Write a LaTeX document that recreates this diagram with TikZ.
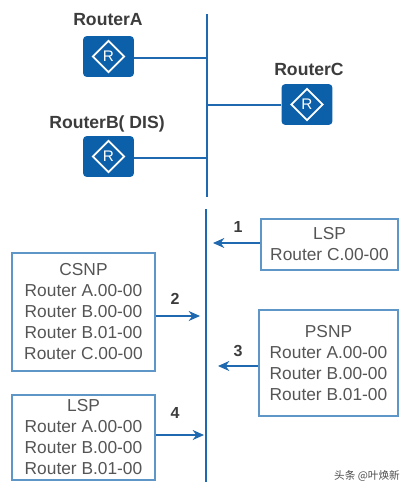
\documentclass[tikz,border=0pt]{standalone}
\usepackage{fontspec}
\setmainfont{Liberation Sans}
\newfontfamily\cjkfont{Noto Sans CJK SC}
\definecolor{rtblue}{RGB}{12,96,170}
\definecolor{lnblue}{RGB}{30,105,175}
\definecolor{boxblue}{RGB}{95,150,200}
\definecolor{txtgray}{RGB}{85,85,85}
\definecolor{lblgray}{RGB}{60,60,60}
\usetikzlibrary{arrows.meta,positioning,shapes.geometric}

\begin{document}
\begin{tikzpicture}[x=0.75pt, y=-0.75pt,
        rtbox/.style={rectangle, rounded corners=2.5pt, fill=rtblue, minimum width=38pt, minimum height=30.5pt, inner sep=0pt},
        rtmark/.style={diamond, draw=white, line width=1.3pt, minimum width=24pt, minimum height=24pt, inner sep=0pt,
                       text=white, font=\fontsize{11.5}{12}\selectfont},
        rtlabel/.style={font=\fontsize{13.2}{15}\selectfont\bfseries, text=lblgray},
        lspbox/.style={rectangle, draw=boxblue, line width=1pt, align=center, inner sep=0pt, text=txtgray,
                       font=\fontsize{13}{15.75}\selectfont},
        bus/.style={lnblue, line width=1.4pt},
        link/.style={lnblue, line width=1.4pt},
        arr/.style={-{Stealth[length=8.5pt, width=7.5pt]}, lnblue, line width=1pt},
        numlabel/.style={font=\fontsize{12}{14}\selectfont\bfseries, text=lblgray}
      ]
        \useasboundingbox (0,0) rectangle (408,490);

        % Top network
        \coordinate (busT) at (207,14);
        \coordinate (busB) at (207,197);
        \draw[bus] (busT) -- (busB);

        \node[rtbox] (rta) at (108.5,56.5) {};
        \node[rtbox] (rtb) at (108.5,156.5) {};
        \node[rtbox] (rtc) at (307,104.5) {};
        \node[rtmark] (marka) at (rta) {R};
        \node[rtmark] (markb) at (rtb) {R};
        \node[rtmark] (markc) at (rtc) {R};

        \node[rtlabel] (laba) at (108,20) {RouterA};
        \node[rtlabel] (labb) at (107,124) {RouterB( DIS)};
        \node[rtlabel] (labc) at (309,69) {RouterC};

        \coordinate (tapa) at (207,58);
        \coordinate (tapb) at (207,158);
        \coordinate (tapc) at (207,105);
        \draw[link] (rta.east |- tapa) -- (tapa);
        \draw[link] (rtb.east |- tapb) -- (tapb);
        \draw[link] (rtc.west |- tapc) -- (tapc);

        % Exchange
        \coordinate (lineT) at (206,209);
        \coordinate (lineB) at (206,482);
        \draw[bus] (lineT) -- (lineB);

        \node[lspbox, minimum width=102.75pt, minimum height=38.25pt] (lspc) at (329.5,244.5) {LSP\\Router C.00-00};
        \node[lspbox, minimum width=107.25pt, minimum height=88.5pt] (csnp) at (83.5,312) {CSNP\\Router A.00-00\\Router B.00-00\\Router B.01-00\\Router C.00-00};
        \node[lspbox, minimum width=104.25pt, minimum height=79.5pt] (psnp) at (328.5,363) {PSNP\\Router A.00-00\\Router B.00-00\\Router B.01-00};
        \node[lspbox, minimum width=107.25pt, minimum height=63.75pt] (lspa) at (83.5,437.5) {LSP\\Router A.00-00\\Router B.00-00\\Router B.01-00};

        \coordinate (end1) at (213,243);
        \coordinate (end2) at (200,316);
        \coordinate (end3) at (218,366);
        \coordinate (end4) at (204,435);
        \draw[arr] (lspc.west |- end1) -- (end1);
        \draw[arr] (csnp.east |- end2) -- (end2);
        \draw[arr] (psnp.west |- end3) -- (end3);
        \draw[arr] (lspa.east |- end4) -- (end4);

        \node[numlabel] (num1) at (238,227) {1};
        \node[numlabel] (num2) at (175,299) {2};
        \node[numlabel] (num3) at (238,351) {3};
        \node[numlabel] (num4) at (175,413) {4};

        % Watermark
        \node[font=\cjkfont\fontsize{8}{10}\selectfont, text=black!70] (wm) at (367,476) {头条 @叶焕新};
      \end{tikzpicture}
\end{document}
